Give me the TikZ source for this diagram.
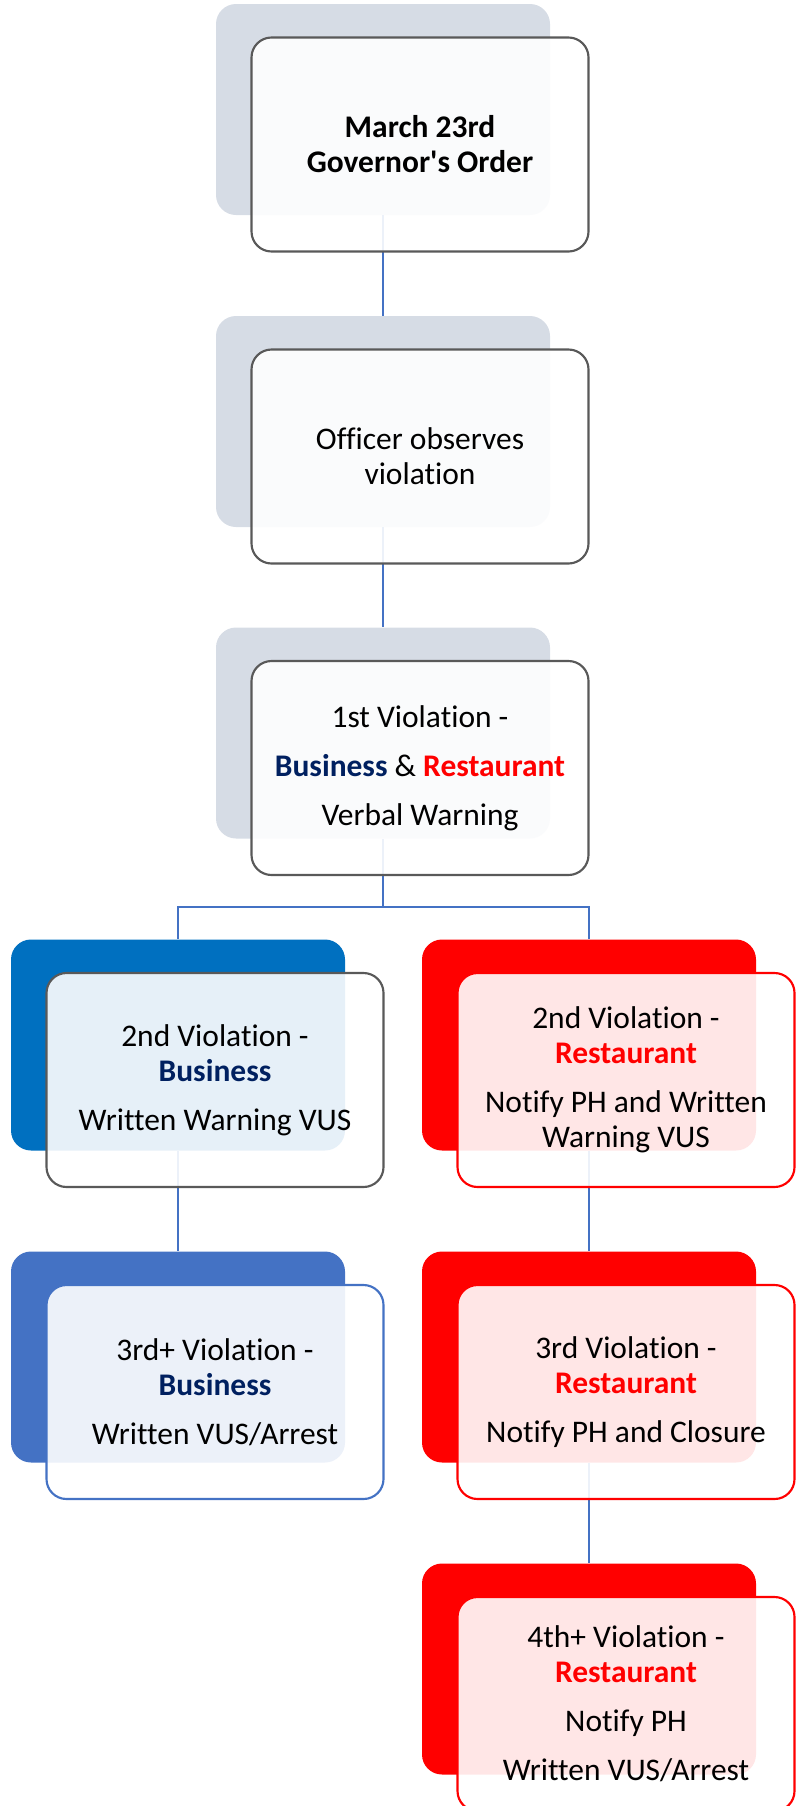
\documentclass[tikz,border=0pt]{standalone}
\usepackage{fontspec}
\setmainfont{Carlito}[Ligatures=NoCommon]
\usetikzlibrary{positioning}
\definecolor{backgray}{HTML}{D6DCE5}
\definecolor{bizblue}{HTML}{0070C0}
\definecolor{bizsteel}{HTML}{4472C4}
\definecolor{navy}{HTML}{002060}
\definecolor{edgegray}{HTML}{595959}
\definecolor{hotred}{HTML}{FF0000}
\newcommand{\bizword}{\textcolor{navy}{\textbf{Business}}}
\newcommand{\restword}{\textcolor{hotred}{\textbf{Restaurant}}}

\begin{document}
\begin{tikzpicture}[x=0.75pt, y=-0.75pt, font=\fontsize{23.6}{26.25}\selectfont]
    \tikzstyle{back} = [rectangle, rounded corners=15pt, minimum width=250.5pt, minimum height=158.25pt, inner sep=0pt]
    \tikzstyle{front} = [rectangle, rounded corners=15pt, minimum width=252.75pt, minimum height=160.5pt, align=center, draw=edgegray, line width=1.6pt, fill=white, fill opacity=0.9, text opacity=1]
    \tikzstyle{link} = [draw=bizsteel, line width=1.6pt]
    \useasboundingbox (0,0) rectangle (801,1806);
    % back cards
    \node[back, fill=backgray](orderbk) at (383,109.5){};
    \node[back, fill=backgray](observebk) at (383,421.5){};
    \node[back, fill=backgray](firstbk) at (383,733){};
    \node[back, fill=bizblue](bizsecondbk) at (178,1045){};
    \node[back, fill=hotred](restsecondbk) at (589,1045){};
    \node[back, fill=bizsteel](bizthirdbk) at (178,1357){};
    \node[back, fill=hotred](restthirdbk) at (589,1357){};
    \node[back, fill=hotred](restfourthbk) at (589,1669){};
    % connectors
    \coordinate (split) at (383,907);
    \draw[link] (orderbk)--(observebk);
    \draw[link] (observebk)--(firstbk);
    \draw[link] (firstbk)--(split);
    \draw[link] (split)-|(bizsecondbk);
    \draw[link] (split)-|(restsecondbk);
    \draw[link] (bizsecondbk)--(bizthirdbk);
    \draw[link] (restsecondbk)--(restthirdbk);
    \draw[link] (restthirdbk)--(restfourthbk);
    % front cards
    \node[front](order) at ([xshift=27.75pt,yshift=-26.25pt]orderbk.center){\textbf{March 23rd}\\\textbf{Governor\textquotesingle s Order}};
    \node[front](observe) at ([xshift=27.75pt,yshift=-26.25pt]observebk.center){Officer observes\\violation};
    \node[front](first) at ([xshift=27.75pt,yshift=-26.25pt]firstbk.center){1st Violation -\\[10.5pt]\bizword{} \& \restword\\[10.5pt]Verbal Warning};
    \node[front](bizsecond) at ([xshift=27.75pt,yshift=-26.25pt]bizsecondbk.center){2nd Violation -\\\bizword\\[10.5pt]Written Warning VUS};
    \node[front, draw=hotred](restsecond) at ([xshift=27.75pt,yshift=-26.25pt]restsecondbk.center){2nd Violation -\\\restword\\[10.5pt]Notify PH and Written\\Warning VUS};
    \node[front, draw=bizsteel](bizthird) at ([xshift=27.75pt,yshift=-26.25pt]bizthirdbk.center){3rd+ Violation -\\\bizword\\[10.5pt]Written VUS/Arrest};
    \node[front, draw=hotred](restthird) at ([xshift=27.75pt,yshift=-26.25pt]restthirdbk.center){3rd Violation -\\\restword\\[10.5pt]Notify PH and Closure};
    \node[front, draw=hotred](restfourth) at ([xshift=27.75pt,yshift=-26.25pt]restfourthbk.center){4th+ Violation -\\\restword\\[10.5pt]Notify PH\\[10.5pt]Written VUS/Arrest};
\end{tikzpicture}
\end{document}
